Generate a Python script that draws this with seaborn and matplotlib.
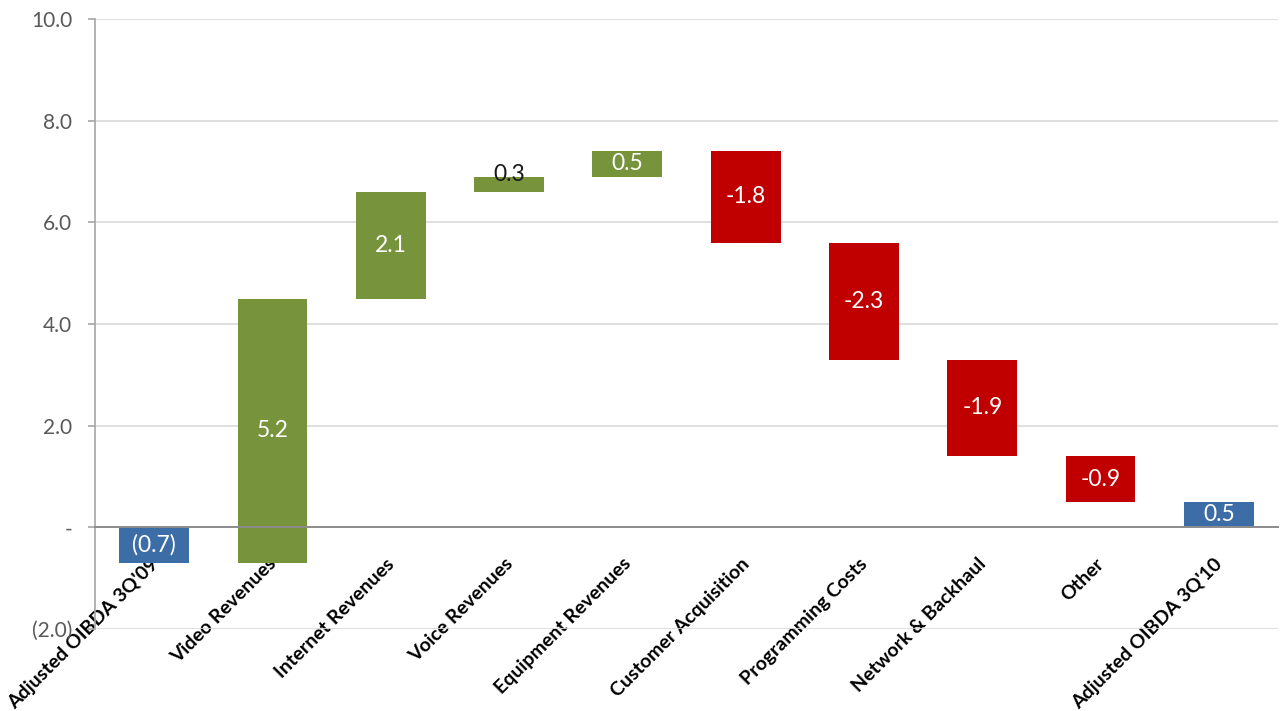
import numpy as np
import pandas as pd
import matplotlib
matplotlib.use("Agg")
import matplotlib.pyplot as plt
import seaborn as sns
from matplotlib.transforms import ScaledTranslation

# ---- data ----
categories = ["Adjusted OIBDA 3Q'09", "Video Revenues", "Internet Revenues",
              "Voice Revenues", "Equipment Revenues", "Customer Acquisition",
              "Programming Costs", "Network & Backhaul", "Other",
              "Adjusted OIBDA 3Q'10"]
changes = [-0.7, 5.2, 2.1, 0.3, 0.5, -1.8, -2.3, -1.9, -0.9, 0.5]
kinds = ["total", "delta", "delta", "delta", "delta", "delta", "delta",
         "delta", "delta", "total"]
bar_labels = ["(0.7)", "5.2", "2.1", "0.3", "0.5", "-1.8", "-2.3", "-1.9",
              "-0.9", "0.5"]
ytick_values = [-2, 0, 2, 4, 6, 8, 10]
ytick_labels = ["(2.0)", "-", "2.0", "4.0", "6.0", "8.0", "10.0"]

BLUE = "#3D6DA6"
GREEN = "#77933C"
RED = "#C00000"

# waterfall bottoms
bottoms = []
cum = 0.0
for v, k in zip(changes, kinds):
    if k == "total":
        bottoms.append(0.0)
        cum = v
    else:
        bottoms.append(cum)
        cum += v
colors = []
for v, k in zip(changes, kinds):
    if k == "total":
        colors.append(BLUE)
    else:
        colors.append(GREEN if v >= 0 else RED)

df = pd.DataFrame({"cat": categories, "change": changes, "bottom": bottoms})

sns.set_theme(style="white")
plt.rcParams["font.family"] = ["Lato", "DejaVu Sans"]

fig = plt.figure(figsize=(12.86, 7.11), dpi=100)
ax = fig.add_axes([95 / 1286, 1 - 629 / 711, (1278 - 95) / 1286, (629 - 19) / 711])

sns.barplot(data=df, x="cat", y="change", bottom=np.array(bottoms),
            width=0.59, ax=ax, errorbar=None, linewidth=0, saturation=1,
            color=BLUE, zorder=3)
for p, c in zip(ax.patches, colors):
    p.set_facecolor(c)
    p.set_edgecolor(c)

ax.set_ylim(-2, 10)
ax.set_xlim(-0.5, 9.5)
ax.set_yticks(ytick_values)
ax.set_yticklabels(ytick_labels)
ax.set_xlabel("")
ax.set_ylabel("")
ax.yaxis.grid(True, color="#D9D9D9", linewidth=1.2, zorder=0)
ax.set_axisbelow(True)

for s in ["top", "right"]:
    ax.spines[s].set_visible(False)
ax.spines["left"].set_color("#A6A6A6")
ax.spines["left"].set_linewidth(1.2)
ax.spines["bottom"].set_position(("data", 0))
ax.spines["bottom"].set_color("#8C8C8C")
ax.spines["bottom"].set_linewidth(1.4)
ax.spines["bottom"].set_zorder(4)

ax.tick_params(axis="y", which="major", length=5, width=1.2, color="#A6A6A6",
               pad=11.5, labelsize=15, labelcolor="#595959", direction="out", left=True)
ax.tick_params(axis="x", length=0, pad=20)
ax.set_xticks(range(len(categories)))
ax.set_xticklabels(categories, rotation=45, ha="right", va="top",
                   rotation_mode="anchor", fontsize=14, fontweight="bold",
                   color="#000000")
offset = ScaledTranslation(-5 / 100, 0, fig.dpi_scale_trans)
for lbl in ax.get_xticklabels():
    lbl.set_transform(lbl.get_transform() + offset)

# bar labels
for i, (b, v, t) in enumerate(zip(bottoms, changes, bar_labels)):
    lo, hi = min(b, b + v), max(b, b + v)
    if hi - lo < 0.4:
        ax.text(i, hi + 0.05, t, ha="center", va="center", fontsize=16.5,
                color="#1a1a1a", zorder=5)
    else:
        ax.text(i, (lo + hi) / 2, t, ha="center", va="center", fontsize=16.5,
                color="white", zorder=5)

fig.savefig("out.png", dpi=100)
